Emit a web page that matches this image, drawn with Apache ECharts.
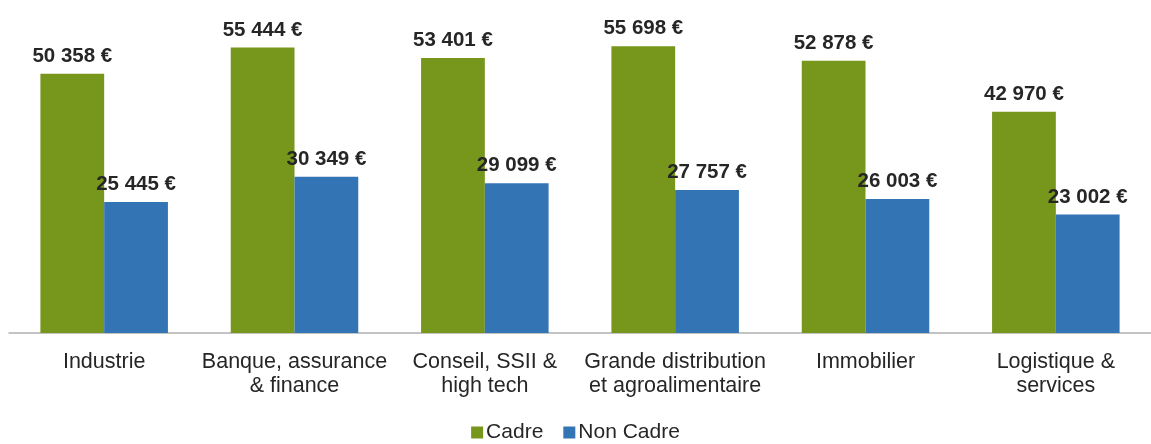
<!DOCTYPE html>
<html>
<head>
<meta charset="utf-8">
<script src="https://cdn.jsdelivr.net/npm/echarts@6/dist/echarts.min.js"></script>
<style>
  html, body { margin: 0; padding: 0; background: #fff; }
  #chart { width: 1151px; height: 444px; }
</style>
</head>
<body>
<div id="chart"></div>
<script>
// data
const categories = [
  'Industrie',
  'Banque, assurance\n& finance',
  'Conseil, SSII &\nhigh tech',
  'Grande distribution\net agroalimentaire',
  'Immobilier',
  'Logistique &\nservices',
]
const cadre = [50358, 55444, 53401, 55698, 52878, 42970]
const nonCadre = [25445, 30349, 29099, 27757, 26003, 23002]

const fmtEuro = (v) => String(v).replace(/\B(?=(\d{3})+(?!\d))/g, ' ') + ' €'

const chart = echarts.init(document.getElementById('chart'))

const labelStyle = {
  show: true,
  position: 'top',
  distance: 7,
  fontFamily: 'Liberation Sans, Arial, sans-serif',
  fontSize: 20.5,
  fontWeight: 'bold',
  color: '#262626',
  formatter: (p) => fmtEuro(p.value),
}

chart.setOption({
  animation: false,
  textStyle: { fontFamily: 'Liberation Sans, Arial, sans-serif' },
  grid: {
    left: 9,
    top: 24,
    width: 1146,
    bottom: 111,
    containLabel: false,
  },
  legend: {
    bottom: -4,
    left: 'center',
    itemWidth: 12,
    itemHeight: 12,
    itemGap: 20,
    icon: 'rect',
    textStyle: {
      fontSize: 21,
      color: '#262626',
      padding: [0, 0, 0, -2],
    },
    data: ['Cadre', 'Non Cadre'],
  },
  xAxis: {
    type: 'category',
    data: categories,
    axisLine: { show: true, lineStyle: { color: '#b0b0b0', width: 1.5 } },
    axisTick: { show: false },
    axisLabel: {
      interval: 0,
      margin: 17,
      fontSize: 21.5,
      lineHeight: 24,
      color: '#262626',
    },
  },
  yAxis: {
    type: 'value',
    min: 0,
    max: 60000,
    show: false,
    splitLine: { show: false },
  },
  series: [
    {
      name: 'Cadre',
      type: 'bar',
      data: cadre,
      barGap: '0%',
      barCategoryGap: '33%',
      itemStyle: { color: '#76961c' },
      label: labelStyle,
    },
    {
      name: 'Non Cadre',
      type: 'bar',
      data: nonCadre,
      itemStyle: { color: '#3374b5' },
      label: labelStyle,
    },
  ],
})
</script>
</body>
</html>
